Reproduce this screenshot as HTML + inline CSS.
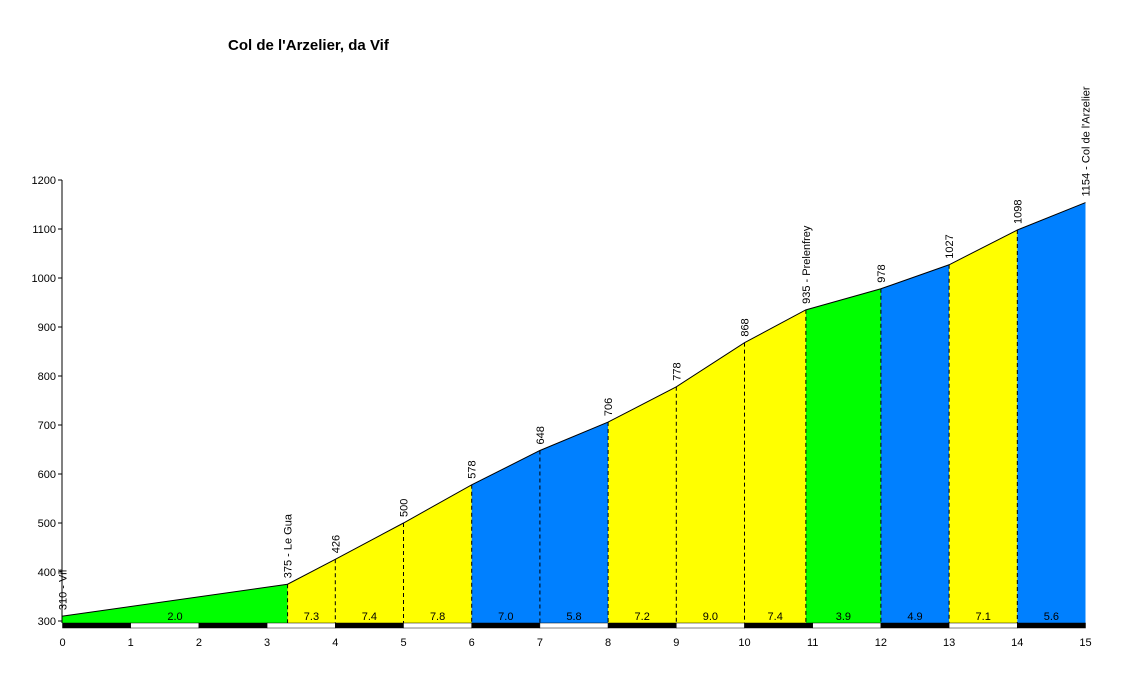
<!DOCTYPE html>
<html><head><meta charset="utf-8"><style>
body{margin:0;background:#fff;}
svg{display:block;font-family:"Liberation Sans",Arial,sans-serif;}
</style></head><body>
<svg id="c" width="1136" height="673">
<text x="228" y="50" font-size="15" font-weight="bold">Col de l'Arzelier, da Vif</text>
</svg>
<script>
const kms=[0,3.3,4,5,6,7,8,9,10,10.9,12,13,14,15];
const elev=[310,375,426,500,578,648,706,778,868,935,978,1027,1098,1154];
const grades=["2.0","7.3","7.4","7.8","7.0","5.8","7.2","9.0","7.4","3.9","4.9","7.1","5.6"];
const colors=["#00ff00","#ffff00","#ffff00","#ffff00","#0080ff","#0080ff","#ffff00","#ffff00","#ffff00","#00ff00","#0080ff","#ffff00","#0080ff"];
const pointNames=["Vif","Le Gua","","","","","","","","Prelenfrey","","","","Col de l'Arzelier"];
const yTicks=[300,400,500,600,700,800,900,1000,1100,1200];
const xTicks=[0,1,2,3,4,5,6,7,8,9,10,11,12,13,14,15];
const NS="http://www.w3.org/2000/svg";
const svg=document.getElementById('c');
const X=k=>62.5+k*68.2;
const Y=v=>621-(v-300)*0.49;
const BASE=623;
function mk(t,a,p){const e=document.createElementNS(NS,t);for(const k in a)e.setAttribute(k,a[k]);(p||svg).appendChild(e);return e;}
for(let i=0;i<kms.length-1;i++){
 const p=mk('polygon',{points:`${X(kms[i])},${BASE} ${X(kms[i])},${Y(elev[i])} ${X(kms[i+1])},${Y(elev[i+1])} ${X(kms[i+1])},${BASE}`,fill:colors[i]});
 
 
 const t=mk('text',{x:(X(kms[i])+X(kms[i+1]))/2,y:620,'font-size':11,'text-anchor':'middle'});
 t.textContent=grades[i];
 
 
}
for(let i=1;i<kms.length-1;i++){
 const l=mk('line',{x1:X(kms[i]),x2:X(kms[i]),y1:Y(elev[i]),y2:BASE,stroke:'#000','stroke-dasharray':'4,3'});
 
 
}
const pl=mk('polyline',{points:kms.map((k,i)=>X(k)+','+Y(elev[i])).join(' '),fill:'none',stroke:'#000','stroke-width':1});


for(let i=0;i<kms.length;i++){
 const x=X(kms[i])+4,y=Y(elev[i])-6;
 const t=mk('text',{x:x,y:y,'font-size':11,transform:`rotate(-90 ${x} ${y})`});
 t.textContent=elev[i]+(pointNames[i]?' - '+pointNames[i]:'');
 
 
}
for(let k=0;k<15;k++){
 const r=mk('rect',{x:X(k),y:623,width:68.2,height:5,fill:k%2?'#fff':'#000',stroke:'#000','stroke-width':0.5});
 
 
}
const ya=mk('line',{x1:62,x2:62,y1:180,y2:623,stroke:'#000'});


yTicks.forEach(v=>{
 mk('line',{x1:58,x2:62,y1:Y(v),y2:Y(v),stroke:'#000'});
 const t=mk('text',{x:56,y:Y(v)+4,'font-size':11,'text-anchor':'end'});
 t.textContent=v;
 
 
});
xTicks.forEach(k=>{
 const t=mk('text',{x:X(k),y:646,'font-size':11,'text-anchor':'middle'});
 t.textContent=k;
 
 
});
</script>
</body></html>
